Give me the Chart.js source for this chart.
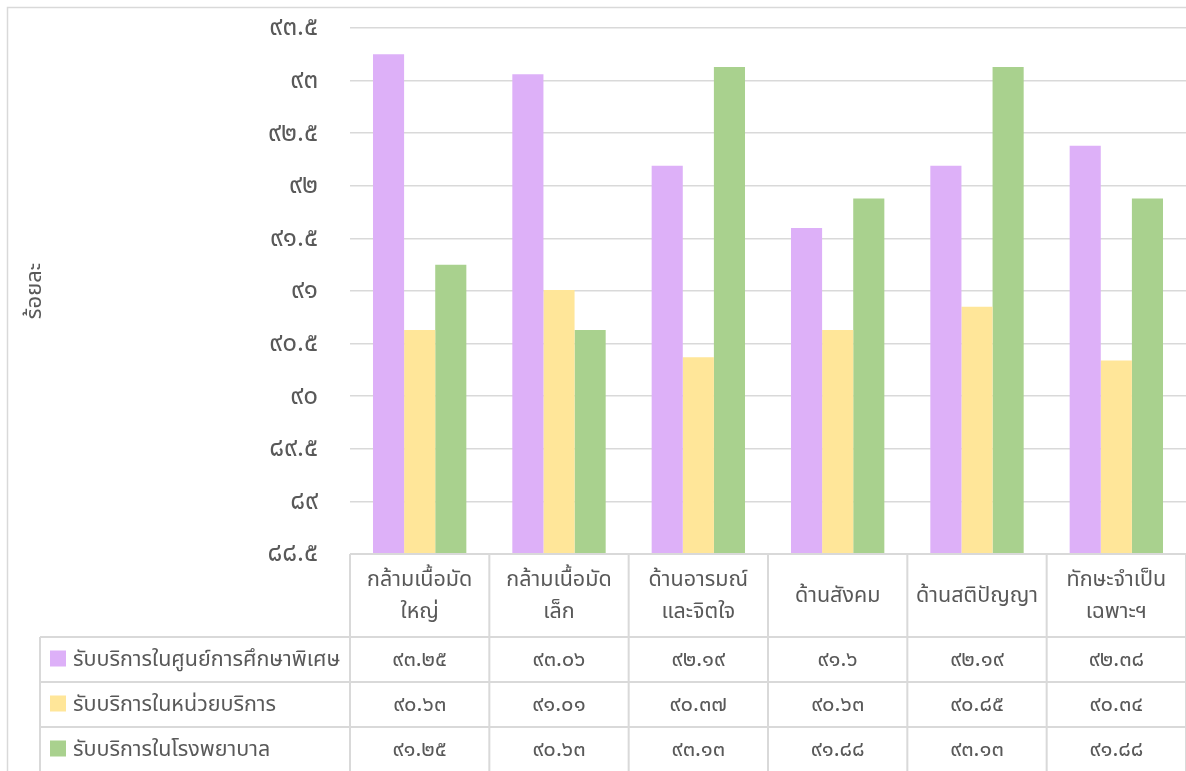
<!DOCTYPE html>
<html>
<head>
<meta charset="utf-8">
<script src="https://cdn.jsdelivr.net/npm/chart.js@4.4.0/dist/chart.umd.min.js"></script>
<style>
  body { margin: 0; background: #fff; }
  #wrap { position: relative; width: 1186px; height: 771px; }
</style>
</head>
<body>
<div id="wrap"><canvas id="grafico"></canvas></div>
<script>
// categorias e valores
const categorias = [
  ["กล้ามเนื้อมัด", "ใหญ่"],
  ["กล้ามเนื้อมัด", "เล็ก"],
  ["ด้านอารมณ์", "และจิตใจ"],
  ["ด้านสังคม"],
  ["ด้านสติปัญญา"],
  ["ทักษะจำเป็น", "เฉพาะฯ"]
];
const nomesSeries = ["รับบริการในศูนย์การศึกษาพิเศษ", "รับบริการในหน่วยบริการ", "รับบริการในโรงพยาบาล"];
const serieCentro = [93.25, 93.06, 92.19, 91.6, 92.19, 92.38];
const serieUnidade = [90.63, 91.01, 90.37, 90.63, 90.85, 90.34];
const serieHospital = [91.25, 90.63, 93.13, 91.88, 93.13, 91.88];
const escalaY = { min: 88.5, max: 93.5, passo: 0.5 };
const tituloY = "ร้อยละ";

const cores = ["#DDB0F8", "#FFE699", "#A9D18E"];
const corTexto = "#595959";
const corLinha = "#D9D9D9";
const fonte = "'Noto Sans', 'Noto Sans Thai', sans-serif";

const digitosThai = "๐๑๒๓๔๕๖๗๘๙";
function paraThai(n) {
  return String(n).replace(/[0-9]/g, d => digitosThai[d]);
}

const series = [serieCentro, serieUnidade, serieHospital];

// tabela de dados desenhada abaixo do gráfico
const tabelaDados = {
  id: "tabelaDados",
  beforeDraw(chart) {
    const c = chart.ctx;
    c.save();
    c.strokeStyle = corLinha;
    c.lineWidth = 1.5;
    c.strokeRect(7.5, 7.5, chart.width + 20, chart.height + 20);
    c.restore();
  },
  afterDraw(chart) {
    const c = chart.ctx;
    const x = chart.scales.x;
    const area = chart.chartArea;
    const larg = x.width / categorias.length;
    const topo = area.bottom;
    const altCab = 83;
    const altLinha = 45;
    const esq = 40;

    c.save();
    c.strokeStyle = corLinha;
    c.lineWidth = 2;
    c.fillStyle = corTexto;
    c.textAlign = "center";
    c.textBaseline = "middle";

    // cabeçalho
    c.beginPath();
    c.moveTo(area.left, topo);
    c.lineTo(area.right, topo);
    for (let i = 0; i <= categorias.length; i++) {
      const px = area.left + i * larg;
      c.moveTo(px, topo);
      c.lineTo(px, chart.height);
    }
    c.stroke();

    c.font = "21.5px " + fonte;
    categorias.forEach((lab, i) => {
      const cx = x.getPixelForValue(i);
      const meio = topo + altCab / 2;
      if (lab.length === 1) {
        c.fillText(lab[0], cx, meio);
      } else {
        c.fillText(lab[0], cx, meio - 16);
        c.fillText(lab[1], cx, meio + 16);
      }
    });

    // linhas das séries
    c.beginPath();
    for (let r = 0; r < series.length; r++) {
      const y = topo + altCab + r * altLinha;
      c.moveTo(esq, y);
      c.lineTo(area.right, y);
    }
    c.moveTo(esq, topo + altCab);
    c.lineTo(esq, chart.height);
    c.stroke();

    series.forEach((vals, r) => {
      const cy = topo + altCab + r * altLinha + altLinha / 2;
      c.fillStyle = cores[r];
      c.fillRect(50, cy - 9, 16, 16);
      c.fillStyle = corTexto;
      c.textAlign = "left";
      c.font = "21.5px " + fonte;
      c.fillText(nomesSeries[r], 73, cy);
      c.textAlign = "center";
      c.font = "22px " + fonte;
      vals.forEach((v, i) => {
        c.fillText(paraThai(v), x.getPixelForValue(i), cy);
      });
    });
    c.restore();
  }
};

function criarGrafico() {
  const ctx = document.getElementById("grafico").getContext("2d");
  new Chart(ctx, {
    type: "bar",
    data: {
      labels: categorias,
      datasets: series.map((vals, i) => ({
        label: nomesSeries[i],
        data: vals,
        backgroundColor: cores[i],
        borderWidth: 0,
        categoryPercentage: 0.67,
        barPercentage: 1.0
      }))
    },
    options: {
      responsive: true,
      maintainAspectRatio: false,
      animation: false,
      layout: { padding: { top: 28, bottom: 217, left: 0, right: 0 } },
      plugins: { legend: { display: false }, tooltip: { enabled: false } },
      scales: {
        x: { display: false },
        y: {
          min: escalaY.min,
          max: escalaY.max,
          afterFit: s => { s.width = 350; s.paddingTop = 0; s.paddingBottom = 0; },
          afterBuildTicks: s => {
            const t = [];
            for (let v = escalaY.min; v <= escalaY.max + 1e-9; v += escalaY.passo) t.push({ value: Math.round(v * 10) / 10 });
            s.ticks = t;
          },
          border: { display: false },
          grid: { color: corLinha, lineWidth: 1.5, drawTicks: false },
          ticks: {
            padding: 32,
            color: corTexto,
            font: { size: 26, family: fonte },
            callback: v => paraThai(v)
          },
          title: {
            display: true,
            text: tituloY,
            color: corTexto,
            font: { size: 22, family: fonte },
            padding: { top: 22, bottom: 0 }
          }
        }
      }
    },
    plugins: [tabelaDados]
  });
}

document.addEventListener("DOMContentLoaded", criarGrafico);
</script>
</body>
</html>
